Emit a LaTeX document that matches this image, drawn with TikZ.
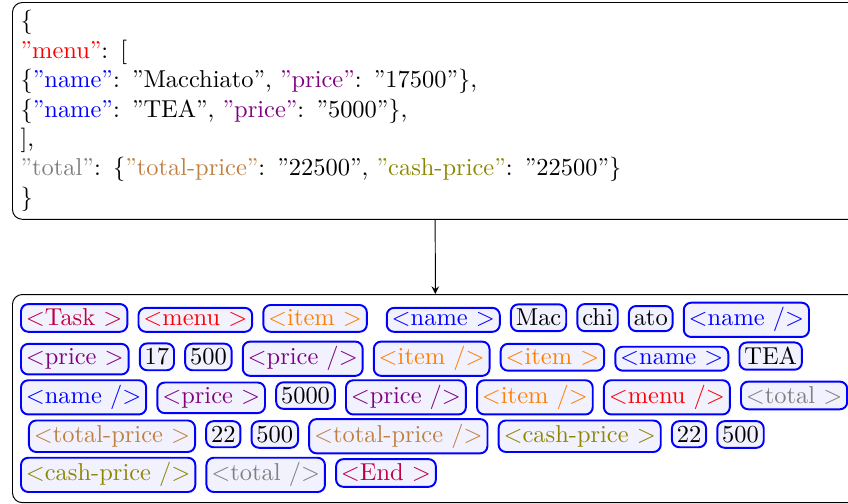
\documentclass[tikz,border=0pt]{standalone}
\usetikzlibrary{positioning}
\tikzset{
  jsonbox/.style={draw, rounded corners, text width=338.9pt, align=left},
  listbox/.style={draw, rounded corners, minimum width=346pt, minimum height=85.1pt},
  tok/.style={draw=blue, thick, fill=blue!5, rounded corners=3pt, inner sep=2pt},
}
\begin{document}
\begin{tikzpicture}[node distance=3.76pt]
\useasboundingbox (0,0) rectangle (346.8pt,-206.1pt);
% json input
\node [jsonbox, anchor=north west] (json) at (4.91pt,-0.82pt) {\{\\
\textcolor{red}{''menu''}: [\\
\{\textcolor{blue}{''name''}: ''Macchiato'', \textcolor{violet}{''price''}: ''17500''\},\\
\{\textcolor{blue}{''name''}: ''TEA'', \textcolor{violet}{''price''}: ''5000''\},\\
],\\
\textcolor{gray}{''total''}: \{\textcolor{brown}{''total-price''}: ''22500'', \textcolor{olive}{''cash-price''}: ''22500''\}\\
\}};
% token list
\node [listbox, anchor=north west] (tokens) at (4.91pt,-120.25pt) {};
\draw [-stealth] (json) -- (tokens);
% row 1
\node [tok, text=purple, anchor=base west] (a1) at (8.18pt,-133.3pt) {$<$Task $>$};
\node [tok, text=red, base right=of a1] (a2) {$<$menu $>$};
\node [tok, text=orange, base right=of a2] (a3) {$<$item $>$};
\node [tok, text=blue, base right=7.36pt of a3] (a4) {$<$name $>$};
\node [tok, base right=of a4] (a5) {Mac};
\node [tok, base right=of a5] (a6) {chi};
\node [tok, base right=of a6] (a7) {ato};
\node [tok, text=blue, base right=of a7] (a8) {$<$name /$>$};
% row 2
\node [tok, text=violet, anchor=base west] (b1) at (8.18pt,-149.2pt) {$<$price $>$};
\node [tok, base right=of b1] (b2) {17};
\node [tok, base right=of b2] (b3) {500};
\node [tok, text=violet, base right=of b3] (b4) {$<$price /$>$};
\node [tok, text=orange, base right=of b4] (b5) {$<$item /$>$};
\node [tok, text=orange, base right=of b5] (b6) {$<$item $>$};
\node [tok, text=blue, base right=of b6] (b7) {$<$name $>$};
\node [tok, base right=of b7] (b8) {TEA};
% row 3
\node [tok, text=blue, anchor=base west] (c1) at (8.18pt,-165pt) {$<$name /$>$};
\node [tok, text=violet, base right=of c1] (c2) {$<$price $>$};
\node [tok, base right=of c2] (c3) {5000};
\node [tok, text=violet, base right=of c3] (c4) {$<$price /$>$};
\node [tok, text=orange, base right=of c4] (c5) {$<$item /$>$};
\node [tok, text=red, base right=of c5] (c6) {$<$menu /$>$};
\node [tok, text=gray, base right=of c6] (c7) {$<$total $>$};
% row 4
\node [tok, text=brown, anchor=base west] (d1) at (11.45pt,-180.9pt) {$<$total-price $>$};
\node [tok, base right=of d1] (d2) {22};
\node [tok, base right=of d2] (d3) {500};
\node [tok, text=brown, base right=of d3] (d4) {$<$total-price /$>$};
\node [tok, text=olive, base right=of d4] (d5) {$<$cash-price $>$};
\node [tok, base right=of d5] (d6) {22};
\node [tok, base right=of d6] (d7) {500};
% row 5
\node [tok, text=olive, anchor=base west] (e1) at (8.18pt,-196.7pt) {$<$cash-price /$>$};
\node [tok, text=gray, base right=of e1] (e2) {$<$total /$>$};
\node [tok, text=purple, base right=of e2] (e3) {$<$End $>$};
\end{tikzpicture}
\end{document}
